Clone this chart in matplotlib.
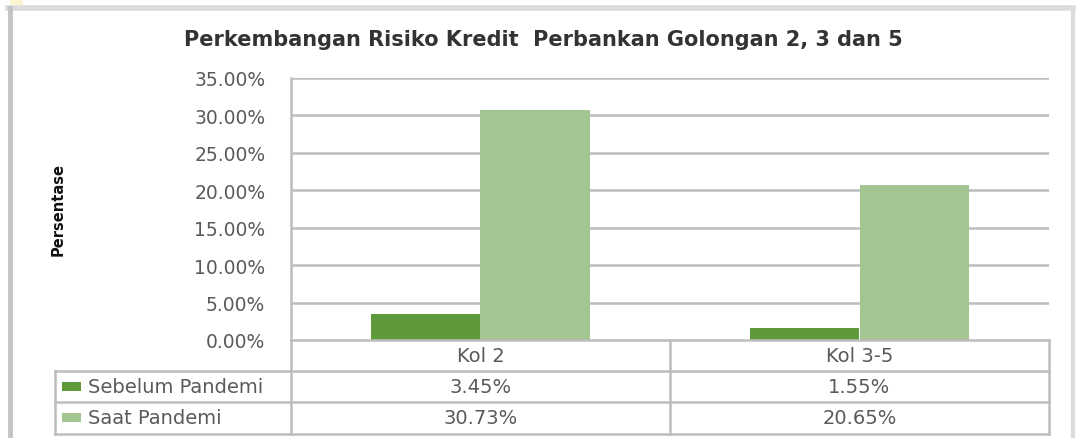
import matplotlib
matplotlib.use('agg')
import matplotlib.pyplot as plt
from matplotlib.patches import Rectangle
from matplotlib.lines import Line2D

# data
categories = ["Kol 2", "Kol 3-5"]
series_names = ["Sebelum Pandemi", "Saat Pandemi"]
sebelum = [3.45, 1.55]
saat = [30.73, 20.65]
series_values = [sebelum, saat]
series_colors = ["#5E9A3A", "#A3C591"]
yticks = [0, 5, 10, 15, 20, 25, 30, 35]
title = "Perkembangan Risiko Kredit  Perbankan Golongan 2, 3 dan 5"

W, H = 1077, 439
grid_col = "#BDBDBD"
text_col = "#5A5A5A"
plt.rcParams['font.family'] = ['DejaVu Sans']

fig = plt.figure(figsize=(W / 100, H / 100), dpi=100)

# pixel box of the plot area
px_left, px_right, px_top, px_bottom = 291, 1049, 79, 341
ax = fig.add_axes([px_left / W, 1 - px_bottom / H,
                   (px_right - px_left) / W, (px_bottom - px_top) / H])

bar_w = 0.29
for k, (vals, col) in enumerate(zip(series_values, series_colors)):
    xs = [i + (k - 0.5) * bar_w for i in range(len(categories))]
    ax.bar(xs, vals, width=bar_w, color=col, zorder=3)

ax.set_xlim(-0.5, len(categories) - 0.5)
ax.set_ylim(0, 35)
ax.set_yticks(yticks)
ax.set_yticklabels(["%.2f%%" % t for t in yticks], fontsize=13.5, color=text_col)
ax.set_xticks([])
ax.tick_params(axis='y', length=0, pad=18.5)
for t in yticks[1:]:
    ax.axhline(t, color=grid_col, lw=1.8, zorder=1)
for s in ["top", "right", "bottom", "left"]:
    ax.spines[s].set_visible(False)
ax.set_facecolor("none")

# overlay in pixel coordinates for the frame, title and data table
ov = fig.add_axes([0, 0, 1, 1], zorder=5)
ov.set_xlim(0, W)
ov.set_ylim(H, 0)
ov.axis('off')
ov.patch.set_alpha(0)

# chart frame
ov.add_patch(Rectangle((10, 0), 13, 6, color="#FBF5CF", lw=0))
ov.add_line(Line2D([8, 1073], [9, 9], color="#DCDCDC", lw=4))
ov.add_line(Line2D([9.5, 9.5], [9, H], color="#C4C4C4", lw=3.5))
ov.add_line(Line2D([1073, 1073], [9, H], color="#DCDCDC", lw=3))

ov.text(543, 40, title, ha='center', va='center', fontsize=15,
        fontweight='bold', color="#333333")
ov.text(58, 210, "Persentase", ha='center', va='center', rotation=90,
        fontsize=10.5, fontweight='bold', color="#111111")

# table
tbl_left = 55
row_y = [px_bottom, 372, 403, 435]
col_w = (px_right - px_left) / len(categories)
col_x = [px_left + i * col_w for i in range(len(categories) + 1)]

# horizontal lines
ov.add_line(Line2D([px_left, px_right], [row_y[0], row_y[0]], color=grid_col, lw=1.8))
for y in row_y[1:]:
    ov.add_line(Line2D([tbl_left, px_right], [y, y], color=grid_col, lw=1.8))
# vertical lines
ov.add_line(Line2D([px_left, px_left], [px_top, row_y[-1]], color=grid_col, lw=1.8))
ov.add_line(Line2D([tbl_left, tbl_left], [row_y[1], row_y[-1]], color=grid_col, lw=1.8))
for x in col_x[1:]:
    ov.add_line(Line2D([x, x], [row_y[0], row_y[-1]], color=grid_col, lw=1.8))

for i, cat in enumerate(categories):
    cx = (col_x[i] + col_x[i + 1]) / 2
    ov.text(cx, (row_y[0] + row_y[1]) / 2, cat, ha='center', va='center',
            fontsize=14, color=text_col)
for k, (name, vals, col) in enumerate(zip(series_names, series_values, series_colors)):
    ymid = (row_y[k + 1] + row_y[k + 2]) / 2
    ov.add_patch(Rectangle((62, ymid - 4.5), 19, 9, color=col, lw=0))
    ov.text(88, ymid, name, ha='left', va='center', fontsize=14, color=text_col)
    for i, v in enumerate(vals):
        cx = (col_x[i] + col_x[i + 1]) / 2
        ov.text(cx, ymid, "%.2f%%" % v, ha='center', va='center',
                fontsize=14, color=text_col)

fig.savefig("out.png", dpi=100)
